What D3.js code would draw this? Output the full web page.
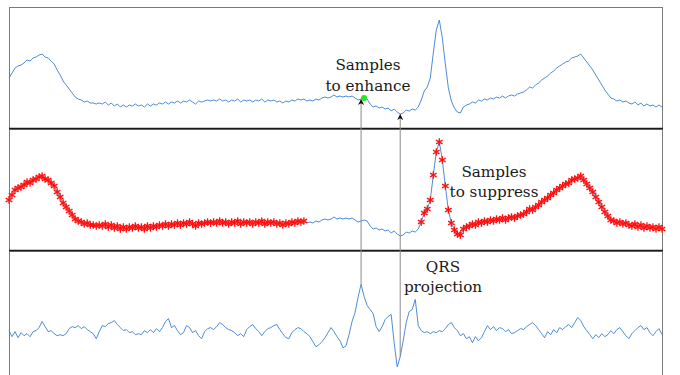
<!DOCTYPE html>
<html>
<head>
<meta charset="utf-8">
<script src="https://cdn.jsdelivr.net/npm/d3@7"></script>
<style>
    body { margin: 0; background: #fff; }
    svg { display: block; }
    .label { font-family: "DejaVu Serif", serif; font-size: 15.2px; fill: #1a1a1a; text-anchor: middle; }
</style>
</head>
<body>
<svg class="js-chart"></svg>
<script>
/* global d3 */

// ECG lead, arbitrary units (isoelectric line ~ 0), one value per sample
var ecg = [
    26, 31, 36, 38, 39, 41, 44, 43, 46, 47,
    49, 50, 47, 46, 43, 40, 34, 29, 23, 19,
    15, 11, 7, 5, 4, 2, 3, 1, 1, 0,
    1, 0, 2, -1, 1, -2, 0, -3, -1, -3,
    -1, -2, 0, -2, -1, -3, 0, -2, 0, -1,
    1, 0, 2, 0, 2, 1, 3, 1, 3, 2,
    4, 2, 0, 3, 2, 3, 4, 3, 4, 3,
    5, 3, 4, 2, 4, 3, 5, 2, 4, 3,
    4, 2, 4, 3, 5, 2, 4, 3, 4, 2,
    3, 1, 3, 2, 4, 3, 5, 4, 5, 3,
    4, 3, 5, 4, 6, 7, 6, 7, 9, 7,
    8, 7, 8, 7, 8, 6, 4, 5, 6, 5,
    0, -3, -2, -4, -3, -5, -4, -7, -5, -8,
    -10, -9, -6, -7, -5, -6, -3, 4, 13, 17,
    26, 51, 74, 84, 66, 40, 16, 3, -4, -8,
    -9, -3, -1, 0, 2, 1, 4, 3, 5, 4,
    6, 5, 7, 6, 8, 6, 8, 9, 8, 10,
    11, 12, 14, 17, 16, 19, 21, 24, 26, 28,
    31, 33, 36, 38, 40, 42, 43, 46, 47, 48,
    50, 46, 42, 38, 34, 29, 24, 19, 14, 10,
    6, 5, 3, 4, 2, 3, 1, 0, 2, -1,
    1, -2, 0, -2, -1, -3, -1, -3
];

// QRS projection of the same window, arbitrary units
var projection = [
    0, -6, -1, -7, -2, -5, -3, -6, -1, 0,
    3, 9, 4, -1, 0, -3, -5, -4, -5, -3,
    2, 4, 3, 5, 2, 4, 1, -1, -3, -8,
    -1, 5, 4, 7, 8, 10, 6, 3, 0, 1,
    -2, -1, -4, -3, -4, 0, -2, 1, -2, 2,
    -1, 3, 9, 12, 3, 5, 0, -4, -2, 5,
    3, -2, 0, -5, -8, -1, 2, 3, 1, 4,
    8, 6, 3, 1, 0, -2, -5, -3, -6, 1,
    4, 6, 2, -1, -5, -1, 2, 3, 5, 6,
    1, -3, -7, -8, -2, 1, 3, 2, -1, -3,
    -6, -11, -16, -14, -11, -7, -2, 3, -1, -6,
    -10, -17, -15, -4, 9, 18, 33, 46, 34, 25,
    21, 17, 4, -1, 4, 11, 14, 16, -12, -36,
    -26, -10, 8, 19, 21, 31, 5, 0, -2, -1,
    -3, -1, -2, 0, -1, 2, 6, 8, 3, 0,
    -5, -3, -8, -6, -12, -6, -10, -7, -1, 5,
    1, 4, 0, 3, 2, -1, 1, -3, -2, 0,
    2, 1, 4, 6, 8, 5, 1, -3, -7, -1,
    -4, 1, -2, 3, 1, 4, 6, 3, 8, 13,
    10, 4, 0, -4, -8, -4, -7, -3, -6, -4,
    0, -3, 1, 3, -1, -5, -8, -3, 0, 3,
    5, 1, 3, -2, -5, -1, 2, -4
];

// sample ranges (inclusive) flagged "to suppress"
var suppressRanges = [[0, 98], [137, 217]];

// sample flagged "to enhance"
var enhanceSample = 118;

// projection extrema traced back to the ECG
var arrowSamples = [117, 130];

var enhanceText = ["Samples", "to enhance"];
var suppressText = ["Samples", "to suppress"];
var projectionText = ["QRS", "projection"];

var chart = {
    width: 680,
    height: 375,
    left: 9,
    right: 662,

    panels: [
        { top: 7, bottom: 128 },
        { top: 129, bottom: 250 },
        { top: 251, bottom: 377 }
    ],

    ecgDomain: [-24, 97],
    projDomain: [-46, 79],

    blue: "#3a7fd3",

    init: function () {
        this.el = d3.select(".js-chart")
            .attr("width", this.width)
            .attr("height", this.height);

        this.x = d3.scaleLinear()
            .domain([0, ecg.length - 1])
            .range([this.left, this.right]);

        this.y = this.panels.map(function (p, i) {
            return d3.scaleLinear()
                .domain(i < 2 ? this.ecgDomain : this.projDomain)
                .range([p.bottom, p.top]);
        }, this);

        this.draw();
    },

    inSuppress: function (i) {
        return suppressRanges.some(function (r) { return i >= r[0] && i <= r[1]; });
    },

    drawFrames: function () {
        var self = this;

        this.el.selectAll(".frame").data(this.panels)
            .enter().append("rect")
                .attr("class", "frame")
                .attr("x", this.left + 0.5)
                .attr("y", function (p) { return p.top + 0.5; })
                .attr("width", this.right - this.left)
                .attr("height", function (p) { return p.bottom - p.top; })
                .attr("fill", "none")
                .attr("stroke", "#7a7a7a")
                .attr("stroke-width", 1);

        // dark separators between the panels
        this.el.selectAll(".sep").data([128.5, 250.5])
            .enter().append("line")
                .attr("class", "sep")
                .attr("x1", self.left)
                .attr("x2", self.right + 1)
                .attr("y1", Number)
                .attr("y2", Number)
                .attr("stroke", "#1a1a1a")
                .attr("stroke-width", 1.3);
    },

    drawLine: function (values, y) {
        var x = this.x;
        var line = d3.line()
            .x(function (d, i) { return x(i); })
            .y(function (d) { return y(d); });

        this.el.append("path")
            .datum(values)
            .attr("d", line)
            .attr("fill", "none")
            .attr("stroke", this.blue)
            .attr("stroke-width", 0.9)
            .attr("stroke-linejoin", "round");
    },

    drawLabel: function (lines, cx, baseline, gap) {
        var g = this.el.append("text")
            .attr("class", "label")
            .attr("x", cx)
            .attr("y", baseline);

        g.selectAll("tspan").data(lines)
            .enter().append("tspan")
                .attr("x", cx)
                .attr("dy", function (d, i) { return i === 0 ? 0 : gap; })
                .text(String);
    },

    draw: function () {
        var self = this, x = this.x, y = this.y;
        var starType = d3.symbolAsterisk || d3.symbolCross;
        var star = d3.symbol().type(starType).size(40);

        this.drawFrames();

        // panel 1 and 2: the same ECG; panel 3: QRS projection
        this.drawLine(ecg, y[0]);
        this.drawLine(ecg, y[1]);
        this.drawLine(projection, y[2]);

        // samples to suppress
        var flagged = ecg.map(function (v, i) { return { i: i, v: v }; })
            .filter(function (d) { return self.inSuppress(d.i); });

        this.el.append("g").selectAll("path").data(flagged)
            .enter().append("path")
                .attr("d", star)
                .attr("transform", function (d) {
                    return "translate(" + x(d.i) + "," + y[1](d.v) + ")";
                })
                .attr("fill", "#ff0000")
                .attr("stroke", "#ff1010")
                .attr("stroke-width", 1.3);

        // arrows from the projection extrema up to the ECG
        var defs = this.el.append("defs");
        defs.append("marker")
            .attr("id", "head")
            .attr("viewBox", "0 0 10 10")
            .attr("refX", 10)
            .attr("refY", 5)
            .attr("markerWidth", 7)
            .attr("markerHeight", 6)
            .attr("markerUnits", "userSpaceOnUse")
            .attr("orient", "auto")
            .append("path")
                .attr("d", "M0,0L10,5L0,10L3,5z")
                .attr("fill", "#111");

        this.el.selectAll(".arrow").data(arrowSamples)
            .enter().append("line")
                .attr("class", "arrow")
                .attr("x1", function (i) { return x(i); })
                .attr("x2", function (i) { return x(i); })
                .attr("y1", function (i) { return y[2](projection[i]); })
                .attr("y2", function (i) { return y[0](ecg[i]); })
                .attr("stroke", "#8a8a8a")
                .attr("stroke-width", 1)
                .attr("marker-end", "url(#head)");

        // sample to enhance
        this.el.append("circle")
            .attr("cx", x(enhanceSample))
            .attr("cy", y[0](ecg[enhanceSample]))
            .attr("r", 3)
            .attr("fill", "#22e622");

        this.drawLabel(enhanceText, 368, 69.5, 21);
        this.drawLabel(suppressText, 494, 176.5, 20);
        this.drawLabel(projectionText, 443, 271.5, 20.5);
    }
};

chart.init();
</script>
</body>
</html>
